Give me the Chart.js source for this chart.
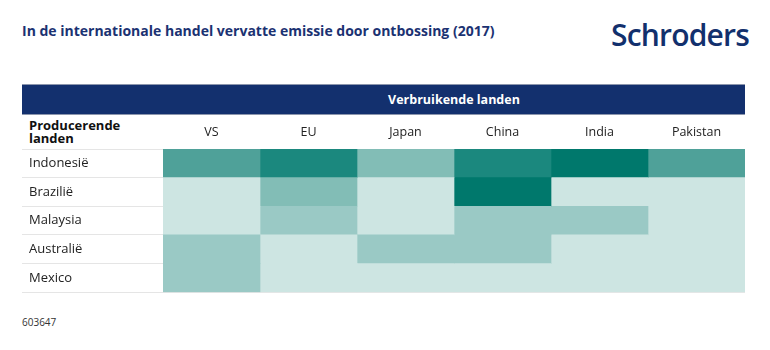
<!DOCTYPE html>
<html><head><meta charset="utf-8">
<script src="https://cdn.jsdelivr.net/npm/chart.js@4.4.1/dist/chart.umd.min.js"></script>
<style>
body{margin:0;background:#fff;width:770px;height:350px;position:relative;overflow:hidden;font-family:"Open Sans",sans-serif;}
#title{position:absolute;left:22px;top:21px;font-weight:700;font-size:14px;color:#1b3272;white-space:nowrap}
#logo{position:absolute;left:611px;top:14px;font-size:30px;font-weight:600;color:#12306d;letter-spacing:-0.8px;white-space:nowrap}
#bar{position:absolute;left:22px;top:84px;width:723px;height:29px;background:#13306e;border-top:1px solid #8c96ad;border-bottom:1px solid #8c96ad;}
#bar span{position:absolute;left:141px;right:0;text-align:center;top:6px;color:#fff;font-weight:700;font-size:12.5px}
#prod{position:absolute;left:29px;top:119px;font-weight:700;font-size:13px;line-height:13px;color:#111}
#foot{position:absolute;left:22px;top:315px;font-size:10px;color:#333}
canvas{position:absolute;left:22px;top:115px}
</style></head>
<body>
<div id="title">In de internationale handel vervatte emissie door ontbossing (2017)</div>
<div id="logo">Schroders</div>
<div id="bar"><span>Verbruikende landen</span></div>
<div id="prod">Producerende<br>landen</div>
<div id="foot">603647</div>
<canvas id="c" width="726" height="185"></canvas>
<script>
const producers = ['Indonesië','Brazilië','Malaysia','Australië','Mexico'];
const consumers = ['VS','EU','Japan','China','India','Pakistan'];
// intensity level per producer, per consumer (0 = lowest, 5 = highest)
const indonesie = [3,4,2,4,5,3];
const brazilie  = [0,2,0,5,0,0];
const malaysia  = [0,1,0,1,1,0];
const australie = [1,0,1,1,0,0];
const mexico    = [1,0,0,0,0,0];
const levels = [indonesie, brazilie, malaysia, australie, mexico];
const palette = ['#cde5e2','#9ac9c5','#82bdb6','#4fa199','#1b887e','#00786c'];

const datasets = consumers.map((c, j) => ({
  label: c,
  data: producers.map(() => 1),
  backgroundColor: levels.map(r => palette[r[j]]),
  borderWidth: 0,
  barPercentage: 1,
  categoryPercentage: 1,
  xAxisID: 'x',
  yAxisID: 'y'
}));

new Chart(document.getElementById('c'), {
  type: 'bar',
  data: { labels: producers, datasets },
  options: {
    indexAxis: 'y',
    responsive: false,
    animation: false,
    layout: { padding: { left: 7, right: 3, bottom: 3, top: 0 } },
    plugins: { legend: { display: false }, tooltip: { enabled: false } },
    scales: {
      x: { type: 'linear', stacked: true, min: 0, max: consumers.length, display: false },
      x2: {
        type: 'category', position: 'top', labels: consumers, offset: true,
        grid: { display: false, drawTicks: false }, border: { display: false },
        ticks: { padding: 9.5, color: '#222', font: { family: 'Open Sans', size: 12.5 } },
        afterFit(s) { s.height = 34; }
      },
      y: {
        type: 'category', stacked: true, offset: true, z: 1,
        grid: { offset: true, color: 'rgba(0,0,0,0.1)', drawTicks: true, tickLength: 141, lineWidth: 1 },
        border: { display: false },
        ticks: { crossAlign: 'far', padding: 0, color: '#222', font: { family: 'Open Sans', size: 13 } },
        afterFit(s) { s.width = 134; }
      }
    }
  }
});
</script>
</body></html>
